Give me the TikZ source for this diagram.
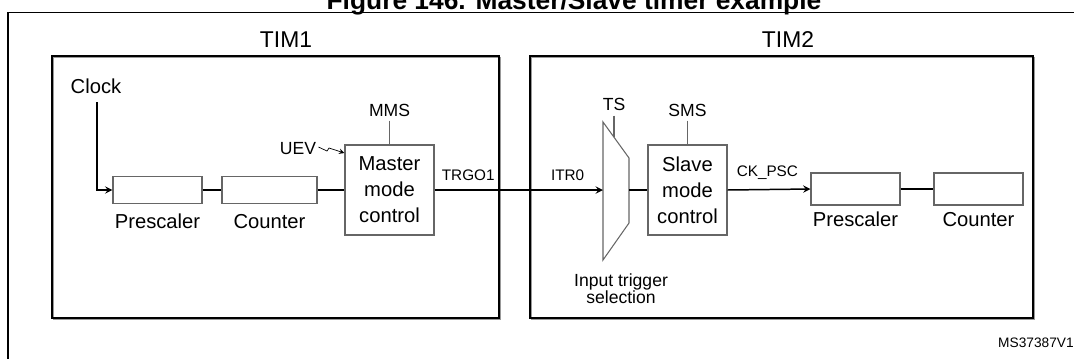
\documentclass[tikz,border=0pt]{standalone}
\usepackage{fontspec}
\setmainfont{Liberation Sans}
\usetikzlibrary{positioning}

\begin{document}
\begin{tikzpicture}[x=0.2mm, y=-0.2mm,
    frame/.style={draw=black, line width=1.1pt},
    timbox/.style={draw=black, line width=0.9pt},
    shade/.style={draw=black!40, line width=0.9pt},
    blk/.style={rectangle, draw=black!60, line width=0.6pt, minimum width=17.8mm, minimum height=5.4mm, inner sep=0pt},
    ctl/.style={rectangle, draw=black!60, line width=0.6pt, minimum width=17.8mm, minimum height=18mm, align=center, inner sep=0pt, font=\fontsize{11.5}{14.8}\selectfont},
    lbl/.style={inner sep=0pt, text height=8.5pt, text depth=2.5pt, font=\fontsize{11.5}{13.5}\selectfont},
    tim/.style={inner sep=0pt, font=\fontsize{13}{15}\selectfont},
    reg/.style={inner sep=0pt, font=\fontsize{10}{12}\selectfont},
    sig/.style={inner sep=0pt, font=\fontsize{8.7}{10}\selectfont},
    wire/.style={draw=black, line width=0.85pt},
    arr/.style={wire, ->, >=stealth}
]
\useasboundingbox (0,0) rectangle (1074,358);

% outer frame and title
\node[anchor=base, inner sep=0pt, font=\fontsize{15}{17}\bfseries] (title) at (574,9) {Figure 146. Master/Slave timer example};
\draw[frame] (8,365) -- (8,12.5) -- (1085,12.5);

% timer frames
\draw[shade] (53.5,57.5) rectangle (500.5,319.5);
\draw[timbox] (52,56) rectangle (499,318);
\draw[shade] (531.5,57.5) rectangle (1034.5,319.5);
\draw[timbox] (530,56) rectangle (1033,318);
\node[tim] (tim1) at (286,40) {TIM1};
\node[tim] (tim2) at (788,40) {TIM2};

% TIM1
\node[lbl] (clock) at (96,88) {Clock};
\node[blk] (psc1) at (157.5,190) {};
\node[blk, minimum width=19mm] (cnt1) at (269.5,190) {};
\node[lbl, below=5pt of psc1] (psc1l) {Prescaler};
\node[lbl, below=5pt of cnt1] (cnt1l) {Counter};
\node[ctl] (master) at (389.5,190) {Master\\mode\\control};
\node[reg] (mms) at (389.5,110) {MMS};
\node[reg] (uev) at (298,149) {UEV};

% TIM2
\node[reg] (ts) at (614,104) {TS};
\coordinate (tsend) at (614,137);
\coordinate (muxin) at (603,190);
\coordinate (muxout) at (629,190);
\draw[draw=black!60, line width=0.6pt] (603,122) -- (629,158) -- (629,223) -- (603,260) -- cycle;
\node[reg, align=center, font=\fontsize{10}{9.6}\selectfont] (itsel) at (621,289) {Input trigger\\selection};
\node[ctl, minimum width=15.8mm] (slave) at (687.5,190) {Slave\\mode\\control};
\node[reg] (sms) at (687.5,110) {SMS};
\node[blk, minimum height=6.4mm] (psc2) at (855.5,189) {};
\node[blk, minimum height=6.4mm] (cnt2) at (978.5,189) {};
\node[lbl, below=3pt of psc2] (psc2l) {Prescaler};
\node[lbl, below=3pt of cnt2] (cnt2l) {Counter};

\node[anchor=south east, inner sep=0pt, font=\fontsize{7.8}{9}\selectfont] (ref) at (1074,348) {MS37387V1};

% connections
\draw[arr] (clock.south) ++(1,4) |- (psc1.west);
\draw[wire] (psc1) -- (cnt1);
\draw[wire] (cnt1) -- (master);
\draw[black!60, line width=0.6pt] (mms.south) ++(0,4) -- (master.north);
\draw[->, >=stealth, line width=0.4pt] (uev.east) ++(2,-2) -- (327,151) -- (329,148) -- (master.north west |- 0,153);
\draw[arr] (master.east) -- node[sig, pos=0.2, above=5pt] (trgo) {TRGO1} node[sig, pos=0.79, above=5pt] (itr) {ITR0} (muxin);
\draw[black!60, line width=0.6pt] (ts.south) ++(0,5) -- (tsend);
\draw[wire] (muxout) -- (slave.west);
\draw[black!60, line width=0.6pt] (sms.south) ++(0,4) -- (slave.north);
\draw[arr] (slave.east) -- node[sig, pos=0.48, above=5pt] (ckpsc) {CK\_PSC} (psc2.west);
\draw[wire] (psc2) -- (cnt2);
\end{tikzpicture}
\end{document}
